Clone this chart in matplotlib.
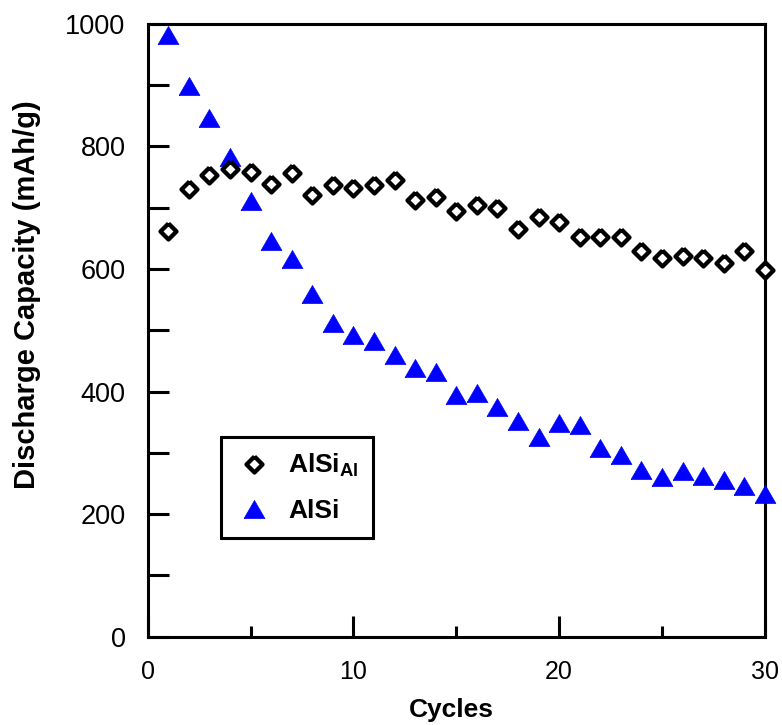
import matplotlib
matplotlib.use("Agg")
import matplotlib.pyplot as plt
from matplotlib.markers import MarkerStyle
from matplotlib.ticker import MultipleLocator

plt.rcParams["font.family"] = ["Liberation Sans", "DejaVu Sans"]
plt.rcParams["mathtext.fontset"] = "custom"
plt.rcParams["mathtext.rm"] = "Liberation Sans:bold"
plt.rcParams["mathtext.bf"] = "Liberation Sans:bold"

cycles = list(range(1, 31))
alsi_al = [662, 731, 753, 764, 759, 738, 757, 721, 737, 732,
           737, 745, 713, 717, 695, 704, 700, 666, 685, 677,
           653, 652, 653, 629, 618, 621, 618, 610, 629, 598]
alsi = [982, 899, 847, 782, 711, 645, 617, 559, 512, 493,
        482, 460, 439, 432, 394, 398, 374, 352, 326, 349,
        346, 307, 297, 272, 260, 271, 262, 256, 246, 233]

diamond = MarkerStyle([(0, 1), (1, 0), (0, -1), (-1, 0), (0, 1)], joinstyle="miter")
triangle = MarkerStyle([(-1, -0.866), (1, -0.866), (0, 0.866), (-1, -0.866)], joinstyle="miter")

fig = plt.figure(figsize=(7.82, 7.25), dpi=100)
ax = fig.add_axes([0.189, 0.122, 0.789, 0.845])

ax.plot(cycles, alsi_al, linestyle="none", marker=diamond, markersize=11.5,
        markerfacecolor="white", markeredgecolor="black", markeredgewidth=3.1,
        clip_on=False, zorder=4, label=r"AlSi$_{\mathrm{Al}}$")
ax.plot(cycles, alsi, linestyle="none", marker=triangle, markersize=15,
        markerfacecolor="#0000ff", markeredgecolor="#0000ff", markeredgewidth=0.5,
        clip_on=False, zorder=3, label="AlSi")

ax.set_xlim(0, 30)
ax.set_ylim(0, 1000)
ax.xaxis.set_major_locator(MultipleLocator(10))
ax.xaxis.set_minor_locator(MultipleLocator(5))
ax.yaxis.set_major_locator(MultipleLocator(200))
ax.yaxis.set_minor_locator(MultipleLocator(100))

for s in ax.spines.values():
    s.set_linewidth(2.2)
ax.tick_params(axis="both", which="both", direction="in", width=2.2,
               top=False, right=False, labelsize=18)
ax.tick_params(axis="x", which="major", length=15, pad=17)
ax.tick_params(axis="x", which="minor", length=8)
ax.tick_params(axis="y", which="both", length=15, pad=16, labelsize=19.5)

fig.text(0.034, 0.593, "Discharge Capacity (mAh/g)", rotation=90,
         ha="center", va="center", fontsize=21, fontweight="bold")
fig.text(0.577, 0.021, "Cycles", ha="center", va="center",
         fontsize=19, fontweight="bold")

leg = ax.legend(loc="upper left", bbox_to_anchor=(0.118, 0.325), borderaxespad=0,
                fancybox=False, edgecolor="black", framealpha=1,
                prop={"size": 19, "weight": "bold"}, borderpad=0.55,
                handlelength=1.4, handletextpad=0.6, labelspacing=0.75)
leg.get_frame().set_linewidth(2.2)

fig.savefig("out.png", dpi=100)
